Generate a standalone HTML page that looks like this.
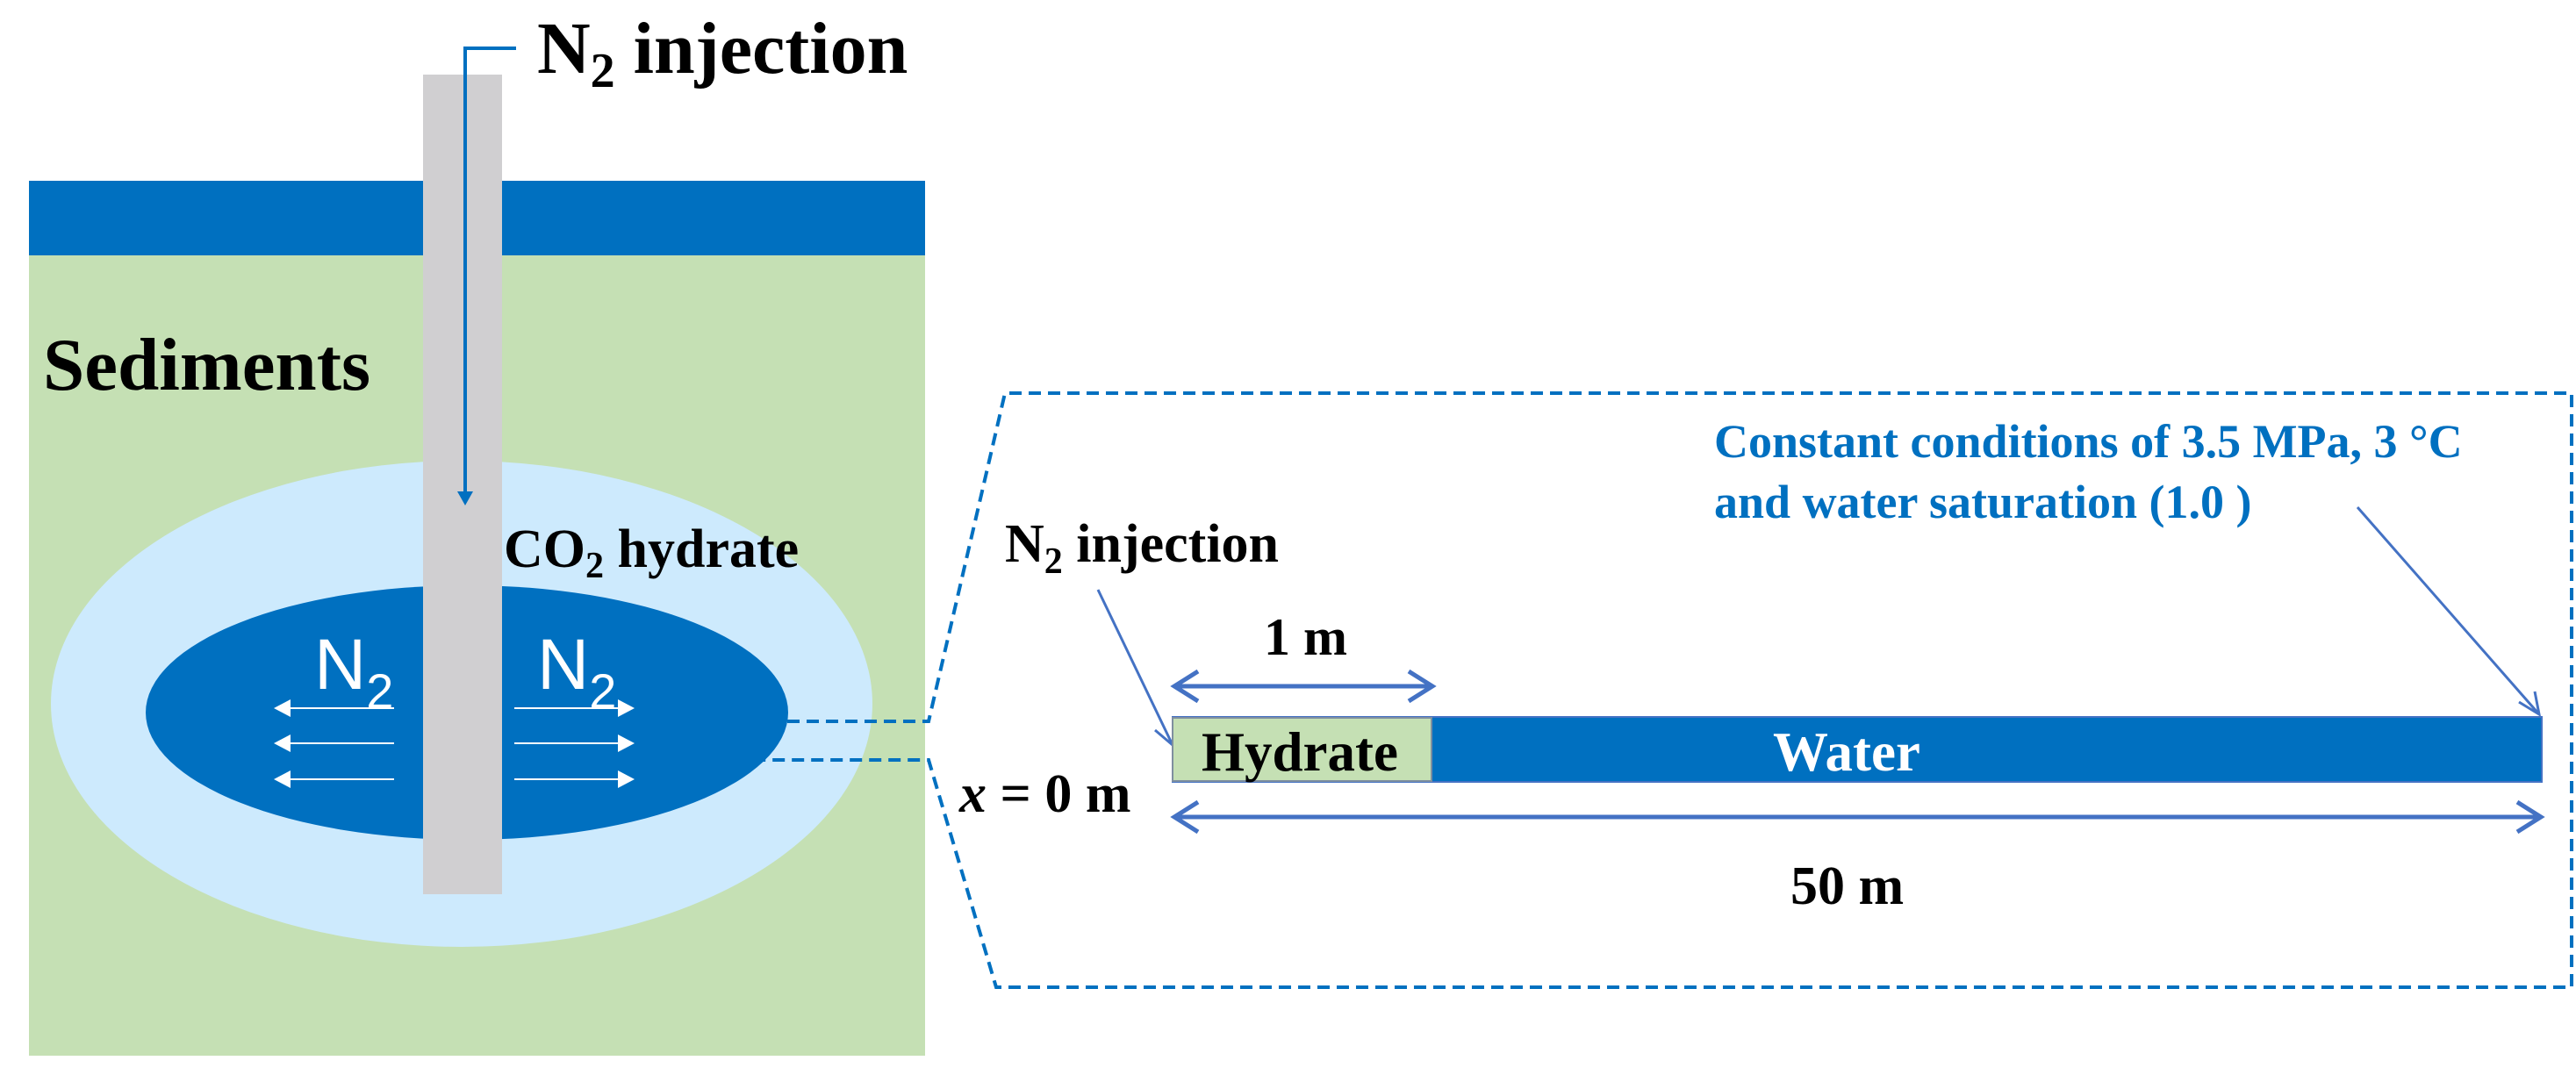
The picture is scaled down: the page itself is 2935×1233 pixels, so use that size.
<!DOCTYPE html>
<html><head><meta charset="utf-8"><style>
html,body{margin:0;padding:0;background:#fff;}
svg{display:block;}
text{font-family:"Liberation Serif",serif;font-weight:bold;}
</style></head><body>
<svg width="2935" height="1233" viewBox="0 0 2935 1233" xmlns="http://www.w3.org/2000/svg">
<!-- left scene -->
<rect x="33" y="206" width="1021" height="997" fill="#c5e0b4"/>
<rect x="33" y="206" width="1021" height="85" fill="#0070c0"/>
<ellipse cx="526" cy="802" rx="468" ry="277" fill="#cdeafd"/>
<ellipse cx="532" cy="812" rx="366" ry="145" fill="#0070c0"/>
<rect x="482" y="85" width="90" height="934" fill="#d0cfd1"/>
<polyline points="588,55 530,55 530,566" fill="none" stroke="#0070c0" stroke-width="4"/>
<path d="M521,560 L530,576 L539,560 Z" fill="#0070c0"/>
<text x="612" y="83" font-size="84">N<tspan font-size="56" dy="16">2</tspan><tspan dy="-16"> injection</tspan></text>
<text x="49" y="444" font-size="85">Sediments</text>
<text x="574" y="646" font-size="62">CO<tspan font-size="42" dy="12">2</tspan><tspan dy="-12"> hydrate</tspan></text>
<text x="358" y="785" font-size="82" fill="#fff" style="font-family:'Liberation Sans',sans-serif;font-weight:normal">N<tspan font-size="56" dy="22">2</tspan></text>
<text x="612" y="785" font-size="82" fill="#fff" style="font-family:'Liberation Sans',sans-serif;font-weight:normal">N<tspan font-size="56" dy="22">2</tspan></text>
<g stroke="#fff" stroke-width="2">
<line x1="449" y1="807" x2="325" y2="807"/><line x1="449" y1="847" x2="325" y2="847"/><line x1="449" y1="888" x2="325" y2="888"/>
<line x1="586" y1="807" x2="710" y2="807"/><line x1="586" y1="847" x2="710" y2="847"/><line x1="586" y1="888" x2="710" y2="888"/>
</g>
<g fill="#fff">
<path d="M312,807 L331,797 L331,817 Z"/><path d="M312,847 L331,837 L331,857 Z"/><path d="M312,888 L331,878 L331,898 Z"/>
<path d="M723,807 L704,797 L704,817 Z"/><path d="M723,847 L704,837 L704,857 Z"/><path d="M723,888 L704,878 L704,898 Z"/>
</g>
<!-- dashed -->
<g fill="none" stroke="#0070c0" stroke-width="4" stroke-dasharray="14,8">
<polyline points="897,822 1058,822 1145,448 2930,448 2930,1125 1135,1125 1058,866 863,866"/>
</g>
<!-- right detail -->
<text x="1953" y="521" font-size="54" fill="#0070c0">Constant conditions of 3.5 MPa, 3 °C</text>
<text x="1953" y="590" font-size="54" fill="#0070c0">and water saturation (1.0 )</text>
<text x="1145" y="640" font-size="62">N<tspan font-size="42" dy="13">2</tspan><tspan dy="-13"> injection</tspan></text>
<g stroke="#4472c4" stroke-width="3" fill="none">
<line x1="1251" y1="672" x2="1336" y2="849"/>
<polyline points="1316,832 1336,849 1338,822"/>
<line x1="2686" y1="578" x2="2893" y2="814"/>
<polyline points="2870,800 2893,814 2888,788"/>
</g>
<rect x="1336" y="817" width="1560" height="74" fill="#0070c0" stroke="#4472c4" stroke-width="2"/>
<rect x="1336" y="818" width="295" height="72" fill="#c5e0b4" stroke="#7f8f9f" stroke-width="2"/>
<text x="1369" y="878" font-size="63">Hydrate</text>
<text x="2020" y="878" font-size="63" fill="#fff">Water</text>
<text x="1440" y="746" font-size="60">1 m</text>
<g stroke="#4472c4" stroke-width="5" fill="none">
<line x1="1340" y1="782" x2="1630" y2="782"/>
<polyline points="1365,765 1338,782 1365,799"/><polyline points="1605,765 1632,782 1605,799"/>
<line x1="1340" y1="931" x2="2893" y2="931"/>
<polyline points="1365,914 1338,931 1365,948"/><polyline points="2868,914 2895,931 2868,948"/>
</g>
<text x="1093" y="925" font-size="62"><tspan font-style="italic">x</tspan> = 0 m</text>
<text x="2040" y="1030" font-size="62">50 m</text>
</svg>
</body></html>
